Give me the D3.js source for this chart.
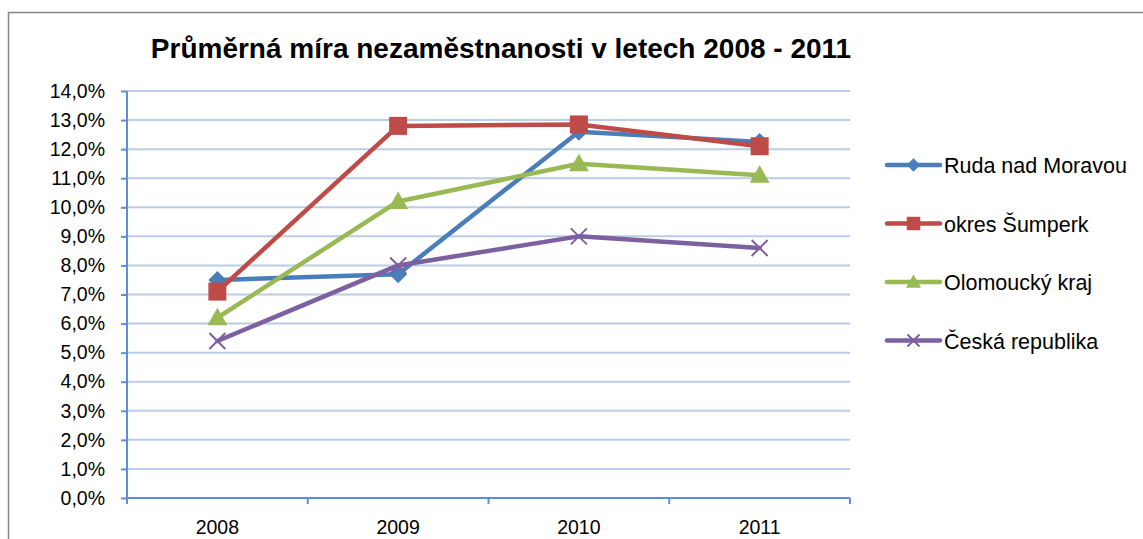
<!DOCTYPE html>
<meta charset="utf-8">
<style>
body { margin: 0; background: #fff; }
svg { display: block; font-family: "Liberation Sans", Arial, sans-serif; }
.grid line { stroke: #b9cde5; stroke-width: 2px; }
.axis path, .axis line { stroke: #5b8fd9; stroke-width: 2px; }
.axis text { fill: #000; font-size: 19.5px; }
</style>
<svg width="1143" height="539" id="chart"></svg>
<script src="https://d3js.org/d3.v7.min.js"></script>
<script>
// data
var years = ["2008", "2009", "2010", "2011"];
var ruda = [7.5, 7.7, 12.6, 12.25];
var sumperk = [7.1, 12.8, 12.85, 12.1];
var olomouc = [6.2, 10.2, 11.5, 11.1];
var cr = [5.4, 8.0, 9.0, 8.6];
var seriesNames = ["Ruda nad Moravou", "okres Šumperk", "Olomoucký kraj", "Česká republika"];
var yTicks = [0, 1, 2, 3, 4, 5, 6, 7, 8, 9, 10, 11, 12, 13, 14];

var colors = ["#4a7ebb", "#be4b48", "#98b954", "#7d60a0"];
var markers = ["diamond", "square", "triangle", "x"];
var allSeries = [ruda, sumperk, olomouc, cr];

var svg = d3.select("#chart");

// outer chart border
svg.append("path")
  .attr("d", "M8.5,545V12.5H1150")
  .attr("fill", "none")
  .attr("stroke", "#868686")
  .attr("stroke-width", 1.5);

svg.append("text")
  .attr("x", 501).attr("y", 58)
  .attr("text-anchor", "middle")
  .style("font-size", "28px").style("font-weight", "bold")
  .text("Průměrná míra nezaměstnanosti v letech 2008 - 2011");

var plotLeft = 127, plotRight = 850, plotTop = 91, plotBottom = 498;

var x = d3.scaleBand().domain(years).range([plotLeft, plotRight]);
var y = d3.scaleLinear().domain([0, 14]).range([plotBottom, plotTop]);

// gridlines
svg.append("g").attr("class", "grid")
  .selectAll("line").data(yTicks.slice(1)).enter().append("line")
  .attr("x1", plotLeft).attr("x2", plotRight)
  .attr("y1", function(d) { return y(d); })
  .attr("y2", function(d) { return y(d); });

var yAxis = d3.axisLeft(y).tickValues(yTicks).tickSize(6).tickPadding(16)
  .tickFormat(function(d) { return d.toFixed(1).replace(".", ",") + "%"; });
svg.append("g").attr("class", "axis")
  .attr("transform", "translate(" + plotLeft + ",0)")
  .call(yAxis)
  .call(function(g) { g.select(".domain").attr("d", "M0," + plotTop + "V" + plotBottom); });

// x axis: ticks between categories
var xAxisG = svg.append("g").attr("class", "axis");
xAxisG.append("line")
  .attr("x1", plotLeft).attr("x2", plotRight).attr("y1", plotBottom).attr("y2", plotBottom);
var bounds = years.map(function(d) { return x(d); }).concat([plotRight]);
xAxisG.selectAll(".tk").data(bounds).enter().append("line")
  .attr("x1", function(d) { return d; }).attr("x2", function(d) { return d; })
  .attr("y1", plotBottom).attr("y2", plotBottom + 6);
xAxisG.selectAll("text").data(years).enter().append("text")
  .attr("x", function(d) { return x(d) + x.bandwidth() / 2; })
  .attr("y", plotBottom + 36)
  .attr("text-anchor", "middle")
  .text(function(d) { return d; });

var line = d3.line()
  .x(function(d, i) { return x(years[i]) + x.bandwidth() / 2; })
  .y(function(d) { return y(d); });

function drawMarker(g, type, color, cx, cy, scale) {
  var s = scale || 1;
  if (type == "diamond") {
    var r = 9 * s;
    g.append("path").attr("d", "M" + cx + "," + (cy - r) + "L" + (cx + r) + "," + cy + "L" + cx + "," + (cy + r) + "L" + (cx - r) + "," + cy + "Z")
      .attr("fill", color);
  } else if (type == "square") {
    var h = 9 * s;
    g.append("rect").attr("x", cx - h).attr("y", cy - h).attr("width", 2 * h).attr("height", 2 * h)
      .attr("fill", color);
  } else if (type == "triangle") {
    var t = 10 * s;
    g.append("path").attr("d", "M" + cx + "," + (cy - t) + "L" + (cx + t) + "," + (cy + t * 0.75) + "L" + (cx - t) + "," + (cy + t * 0.75) + "Z")
      .attr("fill", color);
  } else {
    var k = 8 * s;
    g.append("path").attr("d", "M" + (cx - k) + "," + (cy - k) + "L" + (cx + k) + "," + (cy + k) + "M" + (cx + k) + "," + (cy - k) + "L" + (cx - k) + "," + (cy + k))
      .attr("stroke", color).attr("stroke-width", 2).attr("fill", "none");
  }
}

allSeries.forEach(function(vals, si) {
  var g = svg.append("g");
  g.append("path").datum(vals)
    .attr("d", line)
    .attr("fill", "none")
    .attr("stroke", colors[si])
    .attr("stroke-width", 4.5)
    .attr("stroke-linejoin", "round")
    .attr("stroke-linecap", "round");
  vals.forEach(function(v, i) {
    drawMarker(g, markers[si], colors[si], x(years[i]) + x.bandwidth() / 2, y(v));
  });
});

// legend
var legend = svg.append("g");
seriesNames.forEach(function(name, i) {
  var ly = 165 + i * 58.5;
  legend.append("line")
    .attr("x1", 887).attr("x2", 940).attr("y1", ly).attr("y2", ly)
    .attr("stroke", colors[i]).attr("stroke-width", 4.5).attr("stroke-linecap", "round");
  drawMarker(legend, markers[i], colors[i], 913.5, ly, 0.75);
  legend.append("text")
    .attr("x", 944).attr("y", ly + 8)
    .style("font-size", "21.5px")
    .text(name);
});
</script>
